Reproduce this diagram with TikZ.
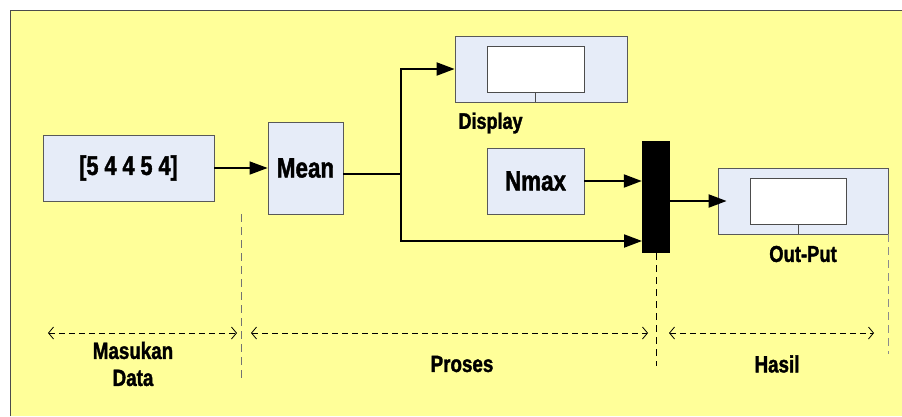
\documentclass[tikz,border=0pt]{standalone}
\usepackage{fontspec}
\setmainfont[FakeStretch=0.8,BoldFeatures={FakeBold=1.5}]{Liberation Sans}
\usetikzlibrary{arrows.meta}

\definecolor{sheet}{RGB}{255,255,153}
\definecolor{boxblue}{RGB}{230,236,248}

\tikzset{
  block/.style={draw=black!65,fill=boxblue,line width=0.8pt,inner sep=0pt,
    font=\bfseries\fontsize{28}{30}\selectfont},
  screen/.style={draw=black!70,fill=white,line width=0.8pt,inner sep=0pt},
  flow/.style={line width=2pt,-{Triangle[length=18pt,width=13pt]}},
  span/.style={line width=0.8pt,dash pattern=on 6pt off 4pt,
    {Straight Barb[length=5pt,width=12pt]}-{Straight Barb[length=5pt,width=12pt]}},
  lbl/.style={font=\bfseries\fontsize{23.5}{27}\selectfont},
  divider/.style={line width=1pt,dash pattern=on 8pt off 5pt}
}

\begin{document}
\begin{tikzpicture}[x=1pt,y=-1pt]

  \useasboundingbox (0,0) rectangle (902,416);

  % Sheet
  \fill[sheet] (10,10) rectangle (902,416);
  \draw[black!70,line width=1pt] (10,416) -- (10,10) -- (902,10);

  % Blocks
  \node[block,minimum width=171pt,minimum height=66pt,
    font=\bfseries\fontsize{27}{28}\selectfont] (data) at (128.5,168) {[5 4 4 5 4]};
  \node[block,minimum width=75pt,minimum height=92pt] (mean) at (305.5,168) {Mean};
  \node[block,minimum width=172pt,minimum height=66pt] (disp) at (541,69) {};
  \node[screen,minimum width=97pt,minimum height=46pt] (dispscr) at (535.5,69) {};
  \node[block,minimum width=97pt,minimum height=66pt] (nmax) at (535.5,181) {Nmax};
  \node[fill=black,inner sep=0pt,minimum width=28pt,minimum height=112pt] (mux) at (656,197) {};
  \node[block,minimum width=170pt,minimum height=66pt] (out) at (803,201) {};
  \node[screen,minimum width=96pt,minimum height=46pt] (outscr) at (798,201) {};

  \draw[black!70,line width=0.8pt] (dispscr.south) -- (dispscr.south |- disp.south);
  \draw[black!70,line width=0.8pt] (outscr.south) -- (outscr.south |- out.south);

  % Labels
  \node[lbl,font=\bfseries\fontsize{22.5}{24}\selectfont,anchor=west] (displbl) at (455,123) {Display};
  \node[lbl,font=\bfseries\fontsize{23}{24}\selectfont] (outlbl) at (803,254) {Out-Put};
  \node[lbl,align=center] (inlbl) at (133,364) {Masukan\\Data};
  \node[lbl] (proslbl) at (462,364) {Proses};
  \node[lbl] (haslbl) at (777,364) {Hasil};

  % Connectors
  \coordinate (branch) at (401,174);
  \coordinate (muxlow) at (642,241);
  \draw[flow,line width=1.5pt] (data) -- (mean);
  \draw[line width=2pt] (mean.east |- branch) -- (branch);
  \draw[flow] (branch) |- (disp.west);
  \draw[flow] (branch) |- (muxlow);
  \draw[flow] (nmax) -- (nmax -| mux.west);
  \draw[flow] (mux.east |- out) -- ([xshift=9pt]out.west);

  % Stage dividers
  \draw[divider,black!55] (241,214) -- (241,378);
  \draw[divider,line width=0.8pt,dash pattern=on 7pt off 5pt] (mux.south) -- ++(0,113);
  \draw[divider,black!45] (out.south east) -- ++(0,120);

  \draw[span] (48,333) -- (237,333);
  \draw[span] (251,333) -- (648,333);
  \draw[span] (669,333) -- (874,333);

\end{tikzpicture}
\end{document}
